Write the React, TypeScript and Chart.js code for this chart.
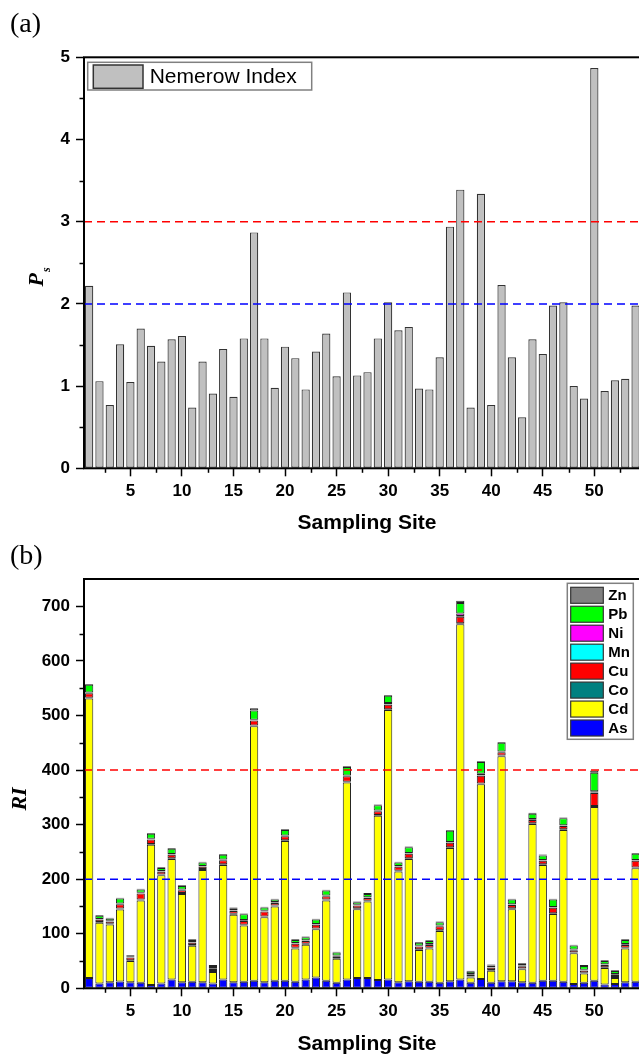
import React, { useEffect, useRef } from "react";
import { Chart, registerables } from "chart.js";

Chart.register(...registerables);

// ---------------- data ----------------
const sites = [
  1, 2, 3, 4, 5, 6, 7, 8, 9, 10, 11, 12, 13, 14, 15, 16, 17, 18, 19, 20,
  21, 22, 23, 24, 25, 26, 27, 28, 29, 30, 31, 32, 33, 34, 35, 36, 37, 38, 39, 40,
  41, 42, 43, 44, 45, 46, 47, 48, 49, 50, 51, 52, 53, 54,
];

const nemerow = [
  2.22, 1.06, 0.77, 1.51, 1.05, 1.70, 1.49, 1.30, 1.57, 1.61,
  0.74, 1.30, 0.91, 1.45, 0.87, 1.58, 2.87, 1.58, 0.98, 1.48,
  1.34, 0.96, 1.42, 1.64, 1.12, 2.14, 1.13, 1.17, 1.58, 2.02,
  1.68, 1.72, 0.97, 0.96, 1.35, 2.94, 3.39, 0.74, 3.34, 0.77,
  2.23, 1.35, 0.62, 1.57, 1.39, 1.98, 2.02, 1.00, 0.85, 4.87,
  0.94, 1.07, 1.09, 1.98,
];

const riAs = [
  19, 9, 11, 12.5, 11, 10, 6, 9, 16, 11,
  12, 11, 9, 16, 11, 12, 14, 11, 14, 14,
  12, 16, 20, 14, 10, 16, 19, 19, 15, 16,
  11, 13, 12, 12, 10, 13, 16, 10, 17, 10,
  13, 13, 11, 10, 14, 14, 12, 8, 10, 14,
  7, 8, 11, 12,
];
const riCd = [
  512, 111, 106, 132, 39, 151, 257, 198, 221, 162,
  66, 206, 21, 210, 124, 103, 466, 119, 136, 256,
  61, 64, 88, 147, 44, 361, 126, 140, 301, 494,
  203, 224, 58, 61, 95, 244, 651, 10, 357, 22,
  412, 132, 24, 291, 212, 122, 278, 56, 17, 318,
  30, 11, 62, 208,
];
const riCo = [
  1.5, 1.5, 1.5, 1.5, 1.5, 1.5, 1.5, 1.5, 1.5, 1.5,
  1.5, 1.5, 1.5, 1.5, 1.5, 1.5, 1.5, 1.5, 1.5, 1.5,
  1.5, 1.5, 1.5, 1.5, 1.5, 1.5, 1.5, 1.5, 1.5, 1.5,
  1.5, 1.5, 1.5, 1.5, 1.5, 1.5, 2, 1.5, 1.5, 1.5,
  1.5, 1.5, 1.5, 1.5, 1.5, 1.5, 1.5, 1.5, 1.5, 2,
  1.5, 1.5, 1.5, 1.5,
];
const riCu = [
  8, 4, 4, 8, 5, 11, 8, 5, 6, 5,
  4, 4, 4, 7, 5, 7, 9, 9, 5, 7,
  7, 5, 7, 6, 3, 10, 5, 5, 7, 8,
  7, 8, 5, 5, 7, 8, 12, 3, 14, 4,
  6, 6, 4, 6, 6, 10, 6, 4, 4, 24,
  4, 4, 5, 12,
];
const riMn = [
  0.5, 0.5, 0.5, 0.5, 0.5, 0.5, 0.5, 0.5, 0.5, 0.5,
  0.5, 0.5, 0.5, 0.5, 0.5, 0.5, 0.5, 0.5, 0.5, 0.5,
  0.5, 0.5, 0.5, 0.5, 0.5, 0.5, 0.5, 0.5, 0.5, 0.5,
  0.5, 0.5, 0.5, 0.5, 0.5, 0.5, 1, 0.5, 0.5, 0.5,
  0.5, 0.5, 0.5, 0.5, 0.5, 0.5, 0.5, 0.5, 0.5, 1,
  0.5, 0.5, 0.5, 0.5,
];
const riNi = [
  1, 1, 1, 1, 1, 1, 1, 1, 1, 1,
  1, 1, 1, 1, 1, 1, 1, 1, 1, 1,
  1, 1, 1, 1, 1, 1, 1, 1, 1, 3,
  1, 1, 1, 1, 1, 1, 5, 1, 3, 1,
  1, 1, 1, 1, 1, 1, 1, 1, 1, 2,
  1, 1, 1, 1,
];
const riPb = [
  14, 6, 4, 9, 1.5, 6, 9, 5.5, 9.5, 6.5,
  3.5, 6.5, 4, 8.5, 3.5, 10.5, 17, 6, 4.5, 10,
  5.5, 5.5, 8, 9, 5.5, 15.5, 4.5, 6, 9.5, 13,
  6.5, 10.5, 5.5, 5.5, 6, 20.5, 19, 4.5, 21.5, 3,
  16, 8.5, 3, 10, 8.5, 13.5, 12.5, 7.5, 7, 34,
  6, 5.5, 7.5, 11.5,
];
const riZn = [
  1.5, 1.5, 1.5, 1.5, 1.5, 1.5, 1.5, 1.5, 1.5, 1.5,
  1.5, 1.5, 1.5, 1.5, 1.5, 1.5, 4, 1.5, 1.5, 1.5,
  1.5, 1.5, 1.5, 1.5, 1.5, 1.5, 1.5, 1.5, 1.5, 1.5,
  1.5, 1.5, 1.5, 1.5, 1.5, 1.5, 4, 1.5, 1.5, 1.5,
  1.5, 1.5, 1.5, 1.5, 1.5, 1.5, 1.5, 1.5, 1.5, 4,
  1.5, 1.5, 1.5, 1.5,
];

const metalNames = ["As", "Cd", "Co", "Cu", "Mn", "Ni", "Pb", "Zn"];
const metalColors = ["#0000ff", "#ffff00", "#008080", "#ff0000", "#00ffff", "#ff00ff", "#00ff00", "#808080"];
const metalSeries = [riAs, riCd, riCo, riCu, riMn, riNi, riPb, riZn];

const xTicks = [
  2.5, 5, 7.5, 10, 12.5, 15, 17.5, 20, 22.5, 25, 27.5, 30, 32.5, 35, 37.5,
  40, 42.5, 45, 47.5, 50, 52.5,
];
const yTicksA = [0, 0.5, 1, 1.5, 2, 2.5, 3, 3.5, 4, 4.5, 5];
const yTicksB = [0, 50, 100, 150, 200, 250, 300, 350, 400, 450, 500, 550, 600, 650, 700];
const thresholdsA = [3, 2];
const thresholdsB = [400, 200];
const thresholdColors = ["#ff0000", "#0000ff"];

// ---------------- styling ----------------
const SANS = "'Liberation Sans', Arial, Helvetica, sans-serif";
const SERIF = "'Liberation Serif', 'Times New Roman', Times, serif";
const CANVAS_W = 700;
const H_A = 540;
const H_B = 516;
const X_MIN = 0.5;
const X_MAX = 58.31;

type Deco = {
  panel: string;
  panelY: number;
  isMajorX: (v: number) => boolean;
  isMajorY: (v: number) => boolean;
  thresholds: number[];
  drawYTitle: (ctx: CanvasRenderingContext2D, area: any) => void;
  drawLegend: (ctx: CanvasRenderingContext2D, area: any, chart: any) => void;
  xTitleY: number;
};

function decoPlugin(d: Deco) {
  return {
    id: "deco" + d.panel,
    afterDatasetsDraw(chart: any) {
      const ctx: CanvasRenderingContext2D = chart.ctx;
      const area = chart.chartArea;
      const ys = chart.scales.y;
      ctx.save();
      ctx.beginPath();
      ctx.rect(area.left, area.top, area.right - area.left, area.bottom - area.top);
      ctx.clip();
      d.thresholds.forEach((t, i) => {
        const py = ys.getPixelForValue(t);
        ctx.beginPath();
        ctx.setLineDash([8, 5]);
        ctx.lineWidth = 1.5;
        ctx.strokeStyle = thresholdColors[i];
        ctx.moveTo(area.left, py);
        ctx.lineTo(area.right, py);
        ctx.stroke();
      });
      ctx.restore();
    },
    afterDraw(chart: any) {
      const ctx: CanvasRenderingContext2D = chart.ctx;
      const area = chart.chartArea;
      const xs = chart.scales.x;
      const ys = chart.scales.y;
      ctx.save();
      // minor ticks
      ctx.strokeStyle = "#000";
      ctx.lineWidth = 1.5;
      ctx.setLineDash([]);
      xs.ticks.forEach((t: any) => {
        if (!d.isMajorX(t.value)) {
          const px = Math.round(xs.getPixelForValue(t.value)) + 0.5;
          ctx.beginPath();
          ctx.moveTo(px, area.bottom);
          ctx.lineTo(px, area.bottom + 4.5);
          ctx.stroke();
        }
      });
      ys.ticks.forEach((t: any) => {
        if (!d.isMajorY(t.value)) {
          const py = Math.round(ys.getPixelForValue(t.value)) + 0.5;
          ctx.beginPath();
          ctx.moveTo(area.left, py);
          ctx.lineTo(area.left - 4.5, py);
          ctx.stroke();
        }
      });
      // frame
      ctx.lineWidth = 2;
      ctx.strokeRect(area.left, area.top, area.right - area.left, area.bottom - area.top);
      // legend
      d.drawLegend(ctx, area, chart);
      // panel label
      ctx.fillStyle = "#000";
      ctx.font = `28px ${SERIF}`;
      ctx.textAlign = "left";
      ctx.textBaseline = "alphabetic";
      ctx.fillText(d.panel, 10, d.panelY);
      // x title
      ctx.font = `bold 21px ${SANS}`;
      ctx.textAlign = "center";
      ctx.textBaseline = "middle";
      ctx.fillText("Sampling Site", 367, d.xTitleY);
      // y title
      d.drawYTitle(ctx, area);
      ctx.restore();
    },
  };
}

function scales(opts: {
  yMax: number;
  yTicks: number[];
  isMajorX: (v: number) => boolean;
  isMajorY: (v: number) => boolean;
  xAxisH: number;
  stacked: boolean;
}) {
  const tickFont = { family: SANS, size: 17, weight: "bold" as const };
  return {
    x: {
      type: "linear" as const,
      min: X_MIN,
      max: X_MAX,
      offset: false,
      stacked: opts.stacked,
      afterBuildTicks: (s: any) => {
        s.ticks = xTicks.map((v) => ({ value: v }));
      },
      afterFit: (s: any) => {
        s.height = opts.xAxisH;
        s.paddingLeft = 0;
        s.paddingRight = 0;
      },
      ticks: {
        autoSkip: false,
        maxRotation: 0,
        padding: 5,
        color: "#000",
        font: tickFont,
        callback: (v: any) => (opts.isMajorX(Number(v)) ? String(v) : ""),
      },
      grid: {
        drawOnChartArea: false,
        offset: false,
        tickLength: 8,
        tickWidth: 1.5,
        tickColor: (c: any) => (c.tick && opts.isMajorX(c.tick.value) ? "#000" : "rgba(0,0,0,0)"),
      },
      border: { display: false },
    },
    y: {
      type: "linear" as const,
      min: 0,
      max: opts.yMax,
      stacked: opts.stacked,
      afterBuildTicks: (s: any) => {
        s.ticks = opts.yTicks.map((v) => ({ value: v }));
      },
      afterFit: (s: any) => {
        s.width = 84;
        s.paddingTop = 0;
        s.paddingBottom = 0;
      },
      ticks: {
        padding: 6,
        color: "#000",
        font: tickFont,
        callback: (v: any) => (opts.isMajorY(Number(v)) ? String(v) : ""),
      },
      grid: {
        drawOnChartArea: false,
        tickLength: 8,
        tickWidth: 1.5,
        tickColor: (c: any) => (c.tick && opts.isMajorY(c.tick.value) ? "#000" : "rgba(0,0,0,0)"),
      },
      border: { display: false },
    },
  };
}

function configA(): any {
  const isMajorX = (v: number) => v % 5 === 0;
  const isMajorY = (v: number) => Number.isInteger(v);
  return {
    type: "bar",
    data: {
      datasets: [
        {
          label: "Nemerow Index",
          data: sites.map((s, i) => ({ x: s, y: nemerow[i] })),
          backgroundColor: "#c0c0c0",
          borderColor: "#333333",
          borderWidth: 1.2,
          borderSkipped: false,
          barPercentage: 0.8,
          categoryPercentage: 1,
        },
      ],
    },
    options: {
      responsive: false,
      animation: false,
      layout: { padding: { top: 57.3, left: 0, right: 20, bottom: 0 } },
      plugins: { legend: { display: false }, tooltip: { enabled: false } },
      scales: scales({ yMax: 5, yTicks: yTicksA, isMajorX, isMajorY, xAxisH: H_A - 468.3, stacked: false }),
    },
    plugins: [
      decoPlugin({
        panel: "(a)",
        panelY: 32,
        isMajorX,
        isMajorY,
        thresholds: thresholdsA,
        xTitleY: 523.5,
        drawYTitle: (ctx) => {
          ctx.save();
          ctx.translate(43, 277);
          ctx.rotate(-Math.PI / 2);
          ctx.textAlign = "left";
          ctx.textBaseline = "alphabetic";
          ctx.font = `italic bold 22px ${SERIF}`;
          const wP = ctx.measureText("P").width;
          ctx.font = `italic bold 12px ${SERIF}`;
          const wS = ctx.measureText("s").width;
          const start = -(wP + wS + 1) / 2;
          ctx.font = `italic bold 22px ${SERIF}`;
          ctx.fillText("P", start, 0);
          ctx.font = `italic bold 12px ${SERIF}`;
          ctx.fillText("s", start + wP + 1, 7);
          ctx.restore();
        },
        drawLegend: (ctx, area, chart) => {
          const ds = chart.data.datasets[0];
          const bx = area.left + 3.7;
          const by = area.top + 5;
          ctx.lineWidth = 1.5;
          ctx.strokeStyle = "#808080";
          ctx.fillStyle = "#ffffff";
          ctx.fillRect(bx, by, 224, 27.7);
          ctx.strokeRect(bx, by, 224, 27.7);
          ctx.fillStyle = ds.backgroundColor;
          ctx.fillRect(bx + 5.6, by + 2.7, 49.7, 23.3);
          ctx.strokeStyle = "#333";
          ctx.strokeRect(bx + 5.6, by + 2.7, 49.7, 23.3);
          ctx.fillStyle = "#000";
          ctx.font = `21px ${SANS}`;
          ctx.textAlign = "left";
          ctx.textBaseline = "middle";
          ctx.fillText(ds.label, bx + 62, by + 15);
        },
      }),
    ],
  };
}

function configB(): any {
  const isMajorX = (v: number) => v % 5 === 0;
  const isMajorY = (v: number) => v % 100 === 0;
  return {
    type: "bar",
    data: {
      datasets: metalNames.map((name, k) => ({
        label: name,
        data: sites.map((s, i) => ({ x: s, y: metalSeries[k][i] })),
        backgroundColor: metalColors[k],
        borderColor: "#222222",
        borderWidth: 1,
        borderSkipped: false,
        barPercentage: 0.8,
        categoryPercentage: 1,
      })),
    },
    options: {
      responsive: false,
      animation: false,
      layout: { padding: { top: 39, left: 0, right: 20, bottom: 0 } },
      plugins: { legend: { display: false }, tooltip: { enabled: false } },
      scales: scales({ yMax: 750, yTicks: yTicksB, isMajorX, isMajorY, xAxisH: H_B - (988.3 - 540), stacked: true }),
    },
    plugins: [
      decoPlugin({
        panel: "(b)",
        panelY: 24,
        isMajorX,
        isMajorY,
        thresholds: thresholdsB,
        xTitleY: 504.5,
        drawYTitle: (ctx) => {
          ctx.save();
          ctx.translate(25.5, 259);
          ctx.rotate(-Math.PI / 2);
          ctx.textAlign = "center";
          ctx.textBaseline = "alphabetic";
          ctx.font = `italic bold 22px ${SERIF}`;
          ctx.fillText("RI", 0, 0);
          ctx.restore();
        },
        drawLegend: (ctx, area, chart) => {
          const bx = area.left + 483.3;
          const by = area.top + 4.3;
          ctx.lineWidth = 1.5;
          ctx.strokeStyle = "#808080";
          ctx.fillStyle = "#ffffff";
          ctx.fillRect(bx, by, 66, 156);
          ctx.strokeRect(bx, by, 66, 156);
          const items = chart.data.datasets.slice().reverse();
          items.forEach((ds: any, i: number) => {
            const sy = by + 4 + i * 18.96;
            ctx.fillStyle = ds.backgroundColor;
            ctx.fillRect(bx + 3.4, sy, 32.6, 16);
            ctx.strokeStyle = "#333";
            ctx.lineWidth = 1.2;
            ctx.strokeRect(bx + 3.4, sy, 32.6, 16);
            ctx.fillStyle = "#000";
            ctx.font = `bold 15px ${SANS}`;
            ctx.textAlign = "left";
            ctx.textBaseline = "middle";
            ctx.fillText(ds.label, bx + 41, sy + 8.5);
          });
        },
      }),
    ],
  };
}

export default function App() {
  const refA = useRef<HTMLCanvasElement>(null);
  const refB = useRef<HTMLCanvasElement>(null);
  useEffect(() => {
    const a = new Chart(refA.current as HTMLCanvasElement, configA());
    const b = new Chart(refB.current as HTMLCanvasElement, configB());
    return () => {
      a.destroy();
      b.destroy();
    };
  }, []);
  return (
    <div
      style={{
        position: "absolute",
        left: 0,
        top: 0,
        width: 639,
        height: 1056,
        overflow: "hidden",
        background: "#ffffff",
      }}
    >
      <canvas
        ref={refA}
        width={CANVAS_W}
        height={H_A}
        style={{ position: "absolute", left: 0, top: 0, width: CANVAS_W, height: H_A }}
      />
      <canvas
        ref={refB}
        width={CANVAS_W}
        height={H_B}
        style={{ position: "absolute", left: 0, top: H_A, width: CANVAS_W, height: H_B }}
      />
    </div>
  );
}
